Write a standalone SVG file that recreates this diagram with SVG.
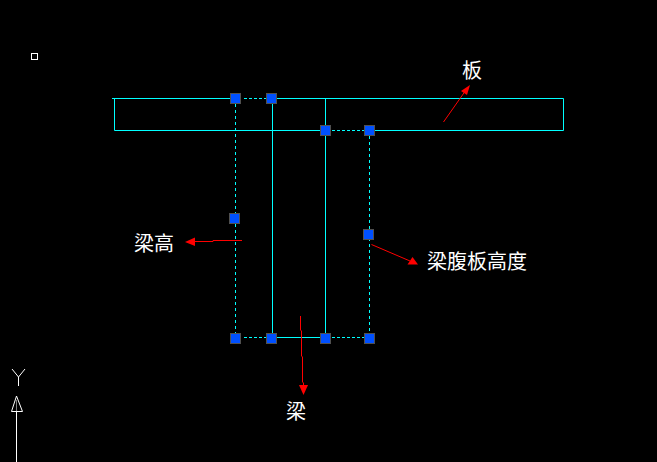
<svg xmlns="http://www.w3.org/2000/svg" width="657" height="462" viewBox="0 0 657 462">
<defs>
<style>
.c{stroke:#00ffff;stroke-width:1;fill:none}
.d{stroke:#00ffff;stroke-width:1;fill:none;stroke-dasharray:3 3}
.dh{stroke:#00ffff;stroke-width:1;fill:none;stroke-dasharray:3 2}
.r{stroke:#ff0000;stroke-width:1;fill:none}
.rh{fill:#ff0000;stroke:none}
.h{fill:#0050ff;stroke:#505050;stroke-width:1}
.w{stroke:#ffffff;stroke-width:1;fill:none}
.t{font-family:"Noto Sans CJK SC","Noto Sans CJK TC",sans-serif;font-size:20px;fill:#ffffff}
</style>
<rect id="handle" class="h" x="-5" y="-5" width="10" height="10"/>
</defs>
<rect width="657" height="462" fill="#000000"/>
<g id="connectors">
<path class="c" d="M112 98.5H235M271 98.5H563.5V130.5H369M325 130.5H114.5V98.5"/>
<path class="c" d="M272.5 98.5V337.5M325.5 98.5V337.5M271 337.5H325"/>
<path class="d" d="M235.5 104V338M369.5 136V338"/>
<path class="dh" d="M244 98.5H266M332 130.5H364M244 337.5H266M332 337.5H364"/>
<path class="r" d="M443.5 122L466 90"/>
<polygon class="rh" points="470,85 467,95 461,91"/>
<path class="r" d="M242 240.5H213V241.5H195"/>
<polygon class="rh" points="185,242 195,237.5 195,246"/>
<path class="r" d="M371.5 244.5L410 261"/>
<polygon class="rh" points="418,264.5 407.5,264.5 412.5,257"/>
<path class="r" d="M300.5 316V330L301.5 331V356L302.5 357V382L303.5 383V386"/>
<polygon class="rh" points="303.5,395 299,385 308,385"/>
</g>
<g id="node-1"><use href="#handle" x="235.5" y="98.5"/></g>
<g id="node-2"><use href="#handle" x="271.5" y="98.5"/></g>
<g id="node-3"><use href="#handle" x="325.5" y="130.5"/></g>
<g id="node-4"><use href="#handle" x="369.5" y="130.5"/></g>
<g id="node-5"><use href="#handle" x="234.5" y="218.5"/></g>
<g id="node-6"><use href="#handle" x="368.5" y="234.5"/></g>
<g id="node-7"><use href="#handle" x="235.5" y="338.5"/></g>
<g id="node-8"><use href="#handle" x="271.5" y="338.5"/></g>
<g id="node-9"><use href="#handle" x="325.5" y="338.5"/></g>
<g id="node-10"><use href="#handle" x="369.5" y="338.5"/></g>
<g id="label-ban"><text class="t" x="462" y="78">板</text></g>
<g id="label-lianggao"><text class="t" x="134" y="251">梁高</text></g>
<g id="label-fuban"><text class="t" x="427" y="269">梁腹板高度</text></g>
<g id="label-liang"><text class="t" x="286" y="419">梁</text></g>
<g id="pickbox"><rect class="w" x="31.5" y="53.5" width="6" height="6"/></g>
<g id="ucs">
<path class="w" d="M12 369L18.5 377L25 369M18.5 377V386"/>
<path class="w" d="M16.5 396L11.5 411.5H22.5ZM16.5 411.5V462"/>
<path stroke="#808080" fill="none" d="M16.5 400V411"/>
</g>
</svg>
